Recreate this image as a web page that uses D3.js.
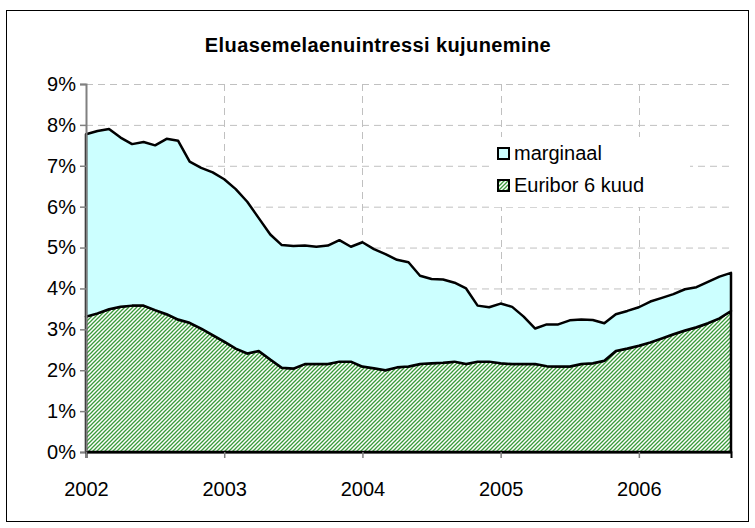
<!DOCTYPE html>
<html>
<head>
<meta charset="utf-8">
<script src="https://cdn.jsdelivr.net/npm/d3@7"></script>
<style>
  body { margin: 0; background: #fff; }
  svg text { font-family: "Liberation Sans", Arial, sans-serif; fill: #000; }
</style>
</head>
<body>
<svg id="chart" width="755" height="528"></svg>
<script>
// monthly values, Jan 2002 .. Sep 2006 (percent)
var years = ['2002', '2003', '2004', '2005', '2006'];
var yTicks = [0, 1, 2, 3, 4, 5, 6, 7, 8, 9];

var euribor = [3.31, 3.39, 3.49, 3.55, 3.58, 3.58, 3.47, 3.37, 3.24, 3.16, 3.02, 2.86,
               2.70, 2.53, 2.41, 2.47, 2.26, 2.06, 2.04, 2.15, 2.15, 2.15, 2.21, 2.21,
               2.09, 2.05, 2.00, 2.07, 2.09, 2.15, 2.17, 2.18, 2.21, 2.15, 2.21, 2.21,
               2.17, 2.15, 2.15, 2.15, 2.10, 2.09, 2.09, 2.15, 2.17, 2.23, 2.47, 2.53,
               2.60, 2.68, 2.78, 2.88, 2.97, 3.05, 3.15, 3.27, 3.45];

var marginaal = [4.46, 4.46, 4.41, 4.14, 3.95, 4.00, 4.03, 4.29, 4.37, 3.94, 3.93, 3.98,
                 3.97, 3.90, 3.71, 3.25, 3.06, 3.00, 3.00, 2.90, 2.87, 2.90, 2.97, 2.81,
                 3.04, 2.91, 2.84, 2.63, 2.55, 2.16, 2.06, 2.04, 1.93, 1.85, 1.37, 1.33,
                 1.46, 1.40, 1.16, 0.87, 1.02, 1.03, 1.13, 1.09, 1.06, 0.92, 0.90, 0.92,
                 0.94, 1.00, 0.99, 0.98, 1.01, 0.98, 1.01, 1.02, 0.93];

var svg = d3.select('#chart');

// outer frame
svg.append('rect')
    .attr('x', 6.5).attr('y', 10.5)
    .attr('width', 742).attr('height', 511)
    .attr('fill', '#fff').attr('stroke', '#000').attr('stroke-width', 1);

svg.append('text')
    .attr('x', 378).attr('y', 52)
    .attr('text-anchor', 'middle')
    .style('font-size', '20px').style('font-weight', 'bold')
    .style('letter-spacing', '0.4px')
    .text('Eluasemelaenuintressi kujunemine');

// hatch for euribor
var defs = svg.append('defs');
var pat = defs.append('pattern')
    .attr('id', 'hatch')
    .attr('patternUnits', 'userSpaceOnUse')
    .attr('width', 4).attr('height', 4);
pat.append('rect').attr('width', 4).attr('height', 4).attr('fill', '#ffffff');
pat.append('path')
    .attr('d', 'M-1,1 l2,-2 M0,4 l4,-4 M3,5 l2,-2')
    .attr('stroke', '#3a9a3a').attr('stroke-width', 1.3);

var x = d3.scaleLinear().domain([0, euribor.length - 1]).range([86, 731]);
var y = d3.scaleLinear().domain([0, 9]).range([452, 84]);

var g = svg.append('g');

// gridlines
g.selectAll('line.hgrid')
    .data(yTicks.slice(1))
    .join('line')
    .attr('class', 'hgrid')
    .attr('x1', 86).attr('x2', 731)
    .attr('y1', function(d) { return y(d) + 0.5; })
    .attr('y2', function(d) { return y(d) + 0.5; })
    .attr('stroke', '#c0c0c0').attr('stroke-dasharray', '7,5');

g.selectAll('line.vgrid')
    .data(years.slice(1))
    .join('line')
    .attr('class', 'vgrid')
    .attr('x1', function(d, i) { return Math.round(x((i + 1) * 12)) + 0.5; })
    .attr('x2', function(d, i) { return Math.round(x((i + 1) * 12)) + 0.5; })
    .attr('y1', 84).attr('y2', 452)
    .attr('stroke', '#c0c0c0').attr('stroke-dasharray', '7,5');

// stacked areas
var rows = euribor.map(function(v, i) { return { i: i, euribor: v, marginaal: marginaal[i] }; });
var stacked = d3.stack().keys(['euribor', 'marginaal'])(rows);
var fills = { euribor: 'url(#hatch)', marginaal: '#ccffff' };

var area = d3.area()
    .x(function(d) { return x(d.data.i); })
    .y0(function(d) { return y(d[0]); })
    .y1(function(d) { return y(d[1]); });

g.selectAll('path.area')
    .data(stacked)
    .join('path')
    .attr('class', 'area')
    .attr('d', area)
    .attr('fill', function(d) { return fills[d.key]; })
    .attr('stroke', '#000').attr('stroke-width', 2.5)
    .attr('stroke-linejoin', 'round');

// axes
var yAxis = d3.axisLeft(y).tickValues(yTicks)
    .tickFormat(function(d) { return d + '%'; })
    .tickSize(6).tickPadding(4);
var ya = svg.append('g').attr('transform', 'translate(86,0)').call(yAxis);
ya.select('.domain').attr('stroke', '#808080').attr('stroke-width', 2);
ya.selectAll('.tick line').attr('stroke', '#808080').attr('stroke-width', 1.5);
ya.selectAll('text').style('font-size', '20px').attr('font-family', null);

var xAxis = d3.axisBottom(x).tickValues([0, 12, 24, 36, 48])
    .tickFormat(function(d) { return years[d / 12]; })
    .tickSize(6).tickPadding(24);
var xa = svg.append('g').attr('transform', 'translate(0,452)').call(xAxis);
xa.select('.domain').attr('stroke', '#000').attr('stroke-width', 2);
xa.selectAll('.tick line').attr('stroke', '#808080').attr('stroke-width', 1.5);
xa.selectAll('text').style('font-size', '20px').attr('font-family', null);

// legend
var legend = svg.append('g').attr('transform', 'translate(490,137)');
legend.append('rect').attr('width', 200).attr('height', 70).attr('fill', '#fff');
var items = [{ key: 'marginaal', label: 'marginaal' }, { key: 'euribor', label: 'Euribor 6 kuud' }];
var li = legend.selectAll('g.item')
    .data(items)
    .join('g')
    .attr('class', 'item')
    .attr('transform', function(d, i) { return 'translate(8,' + (10 + i * 32) + ')'; });
li.append('rect')
    .attr('width', 11).attr('height', 11)
    .attr('y', 1)
    .attr('fill', function(d) { return fills[d.key]; })
    .attr('stroke', '#000').attr('stroke-width', 2);
li.append('text')
    .attr('x', 16).attr('y', 13)
    .style('font-size', '20px')
    .text(function(d) { return d.label; });
</script>
</body>
</html>
